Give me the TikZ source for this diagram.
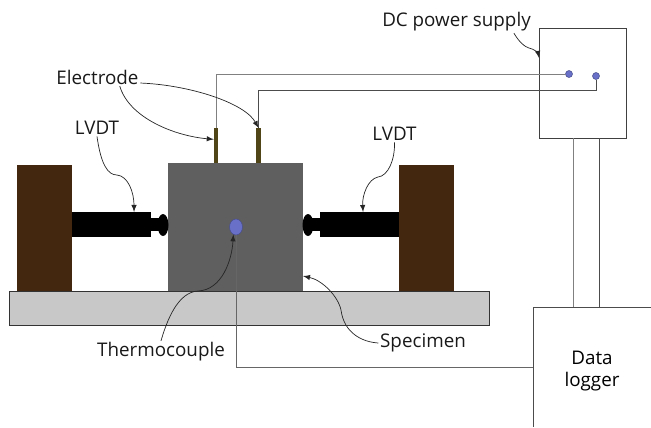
\documentclass[tikz,border=0pt]{standalone}
\usepackage{fontspec}
\setmainfont{Open Sans}
\usepackage{tikz}
\usetikzlibrary{arrows}
\usetikzlibrary{shapes.geometric}

\definecolor{frame}{HTML}{43270F}
\definecolor{specgray}{HTML}{5F5F5F}
\definecolor{plategray}{HTML}{C8C8C8}
\definecolor{elecbrown}{HTML}{4F4516}
\definecolor{dotblue}{HTML}{6870C8}

\begin{document}
\begin{tikzpicture}
	[x=.02cm,y=-.02cm,font=\fontsize{10.7}{13}\selectfont,
	every node/.style={inner sep=0,outer sep=0},
	block/.style={rectangle,fill=#1},
	lbl/.style={inner sep=1pt,text=black!90},
	wire/.style={draw=#1,line width=.5pt},
	wire/.default={black!70},
	callout/.style={draw=black!85,line width=.4pt,-latex}]
	\useasboundingbox (0,0) rectangle (651,427);

	% base and frames
	\node[block=plategray,draw=black!80,line width=.5pt,minimum width=9.6cm,minimum height=.68cm] (plate) at (249.5,308) {};
	\node[block=frame,minimum width=1.1cm,minimum height=2.52cm] (frameL) at (44.5,228) {};
	\node[block=frame,minimum width=1.1cm,minimum height=2.52cm] (frameR) at (426.5,228) {};
	\node[block=specgray,minimum width=2.7cm,minimum height=2.56cm] (specimen) at (235.5,227) {};

	% LVDT left and right
	\node[block=black,minimum width=1.58cm,minimum height=.5cm] (bodyL) at (111.5,224.5) {};
	\node[block=black,minimum width=.16cm,minimum height=.26cm] (neckL) at (155,224.5) {};
	\node[ellipse,fill=black,minimum width=.22cm,minimum height=.44cm] (capL) at (163,225) {};
	\node[block=black,minimum width=1.58cm,minimum height=.5cm] (bodyR) at (359.5,224.5) {};
	\node[block=black,minimum width=.16cm,minimum height=.26cm] (neckR) at (316,224.5) {};
	\node[ellipse,fill=black,minimum width=.22cm,minimum height=.44cm] (capR) at (308,225) {};

	% electrodes and thermocouple
	\node[block=elecbrown,minimum width=.09cm,minimum height=.7cm] (elec1) at (216,145.5) {};
	\node[block=elecbrown,minimum width=.09cm,minimum height=.7cm] (elec2) at (258.5,145.5) {};
	\node[ellipse,fill=dotblue,draw=dotblue!70!black,line width=.3pt,minimum width=.26cm,minimum height=.32cm] (tcdot) at (236,227) {};

	% power supply and logger
	\node[rectangle,draw=black!75,line width=.5pt,minimum width=1.74cm,minimum height=2.2cm] (dcbox) at (582.5,83) {};
	\node[ellipse,fill=dotblue,draw=dotblue!70!black,line width=.3pt,minimum size=.14cm] (dot1) at (569,74) {};
	\node[ellipse,fill=dotblue,draw=dotblue!70!black,line width=.3pt,minimum size=.14cm] (dot2) at (596,76) {};
	\node[minimum width=2.36cm,minimum height=2.4cm] (logger) at (592,367) {};
	\node[align=center] (lbllog) at (592,371) {Data\\[-1pt]logger};
	\draw[wire] (logger.north east) -- (logger.north west) -- (logger.south west);

	\coordinate (bend) at (596,90);
	\coordinate (dc1) at (573,138);
	\coordinate (dc2) at (599,138);
	\coordinate (lg1) at (573,307);
	\coordinate (lg2) at (599,307);

	\draw[wire=black!50] (elec1.north) |- (dot1.west);
	\draw[wire] (elec2.north) |- (bend) -- (dot2.south);
	\draw[wire=black!60] (tcdot.south) |- (logger.west);
	\draw[wire=black!50] (dc1) -- (lg1);
	\draw[wire] (dc2) -- (lg2);

	% labels
	\node[lbl] (lblelec) at (97.5,77) {Electrode};
	\node[lbl] (lblL) at (97,128) {LVDT};
	\node[lbl] (lblR) at (394.5,134) {LVDT};
	\node[lbl] (lbldc) at (456.5,22) {DC power supply};
	\node[lbl] (lbltc) at (161,352) {Thermocouple};
	\node[lbl] (lblsp) at (423,343) {Specimen};

	% callouts
	\draw[callout] (lblelec.-22) .. controls (129,118) and (175,136) .. (elec1.110);
	\draw[callout] (lblelec.-8) .. controls (190,85) and (245,103) .. (elec2.north);
	\draw[callout] (lblL.south) .. controls (101,165) and (108,175) .. (117,175) .. controls (128,176) and (134,192) .. (bodyL.29);
	\draw[callout] (lblR.south) .. controls (395,160) and (388,176) .. (378,177) .. controls (368,179) and (362,195) .. (bodyR.74);
	\draw[callout] (lbldc.-11) .. controls (519,42) and (525,47) .. (529,48) .. controls (534,49) and (538,53) .. (dcbox.150);
	\draw[callout] (lbltc.north) .. controls (167,320) and (178,292) .. (198,291) .. controls (222,290) and (232,260) .. (tcdot.250);
	\draw[callout] (lblsp.west) .. controls (362,342) and (344,333) .. (341,310) .. controls (338,296) and (322,280) .. (specimen.-36.5);
\end{tikzpicture}
\end{document}
